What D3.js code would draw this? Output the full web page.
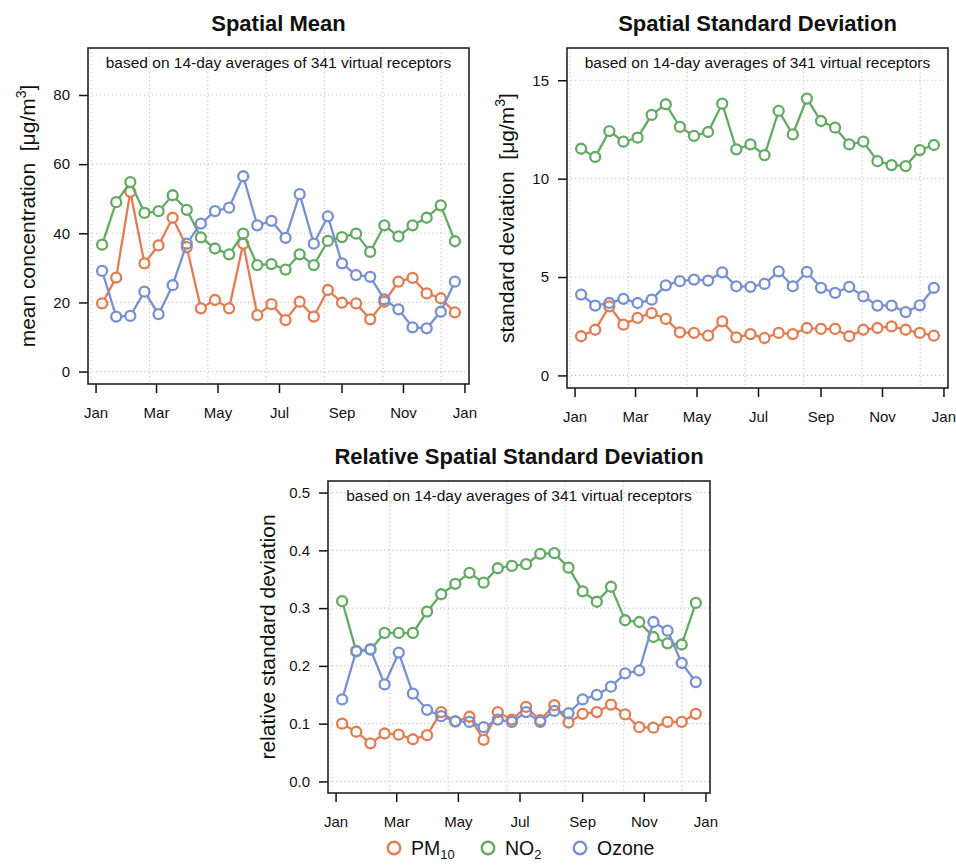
<!DOCTYPE html>
<html>
<head>
<meta charset="utf-8">
<script src="https://cdn.jsdelivr.net/npm/d3@7"></script>
<style>
  body { margin: 0; background: #fff; }
  svg { display: block; font-family: "Liberation Sans", Arial, Helvetica, sans-serif; }
</style>
</head>
<body>
<div id="chart"></div>
<script>
// 14-day periods, mid dates
const dates = ["2012-01-07", "2012-01-21", "2012-02-04", "2012-02-18", "2012-03-03", "2012-03-17",
    "2012-03-31", "2012-04-14", "2012-04-28", "2012-05-12", "2012-05-26", "2012-06-09", "2012-06-23",
    "2012-07-07", "2012-07-21", "2012-08-04", "2012-08-18", "2012-09-01", "2012-09-15", "2012-09-29",
    "2012-10-13", "2012-10-27", "2012-11-10", "2012-11-24", "2012-12-08", "2012-12-22"];

const monthTicks = ["2012-01-01", "2012-03-01", "2012-05-01", "2012-07-01", "2012-09-01", "2012-11-01", "2013-01-01"];

const meanPM10 = [19.7, 27.2, 52.0, 31.3, 36.5, 44.5, 36.0, 18.3, 20.7, 18.3, 37.0, 16.3, 19.5, 14.9, 20.2, 15.9, 23.6, 19.9, 19.7, 15.1, 20.2, 26.0, 27.1, 22.6, 21.2, 17.1];
const meanNO2 = [36.7, 49.0, 54.8, 45.9, 46.4, 51.0, 46.8, 38.8, 35.6, 33.9, 39.9, 30.8, 31.1, 29.5, 33.9, 30.8, 37.8, 38.9, 39.9, 34.6, 42.3, 39.1, 42.3, 44.5, 48.1, 37.7];
const meanOzone = [29.1, 15.9, 16.1, 23.1, 16.6, 25.0, 37.0, 42.8, 46.4, 47.4, 56.5, 42.3, 43.6, 38.7, 51.3, 37.0, 44.9, 31.3, 27.9, 27.4, 20.9, 18.0, 12.8, 12.5, 17.3, 26.0];

const sdPM10 = [1.99, 2.32, 3.51, 2.58, 2.92, 3.17, 2.87, 2.19, 2.16, 2.02, 2.75, 1.93, 2.10, 1.90, 2.16, 2.10, 2.41, 2.36, 2.36, 1.99, 2.32, 2.41, 2.49, 2.32, 2.16, 2.02];
const sdNO2 = [11.52, 11.10, 12.42, 11.88, 12.08, 13.24, 13.78, 12.63, 12.17, 12.37, 13.81, 11.49, 11.74, 11.20, 13.44, 12.25, 14.07, 12.93, 12.59, 11.74, 11.88, 10.89, 10.69, 10.64, 11.45, 11.71];
const sdOzone = [4.11, 3.55, 3.68, 3.89, 3.68, 3.85, 4.58, 4.79, 4.87, 4.82, 5.24, 4.53, 4.50, 4.65, 5.29, 4.53, 5.26, 4.45, 4.19, 4.50, 4.02, 3.55, 3.55, 3.22, 3.56, 4.45];

const relPM10 = [0.100, 0.086, 0.066, 0.083, 0.081, 0.073, 0.080, 0.120, 0.104, 0.112, 0.072, 0.120, 0.107, 0.129, 0.106, 0.132, 0.102, 0.117, 0.120, 0.133, 0.116, 0.094, 0.093, 0.103, 0.103, 0.117];
const relNO2 = [0.312, 0.225, 0.228, 0.257, 0.257, 0.257, 0.294, 0.324, 0.342, 0.361, 0.344, 0.369, 0.373, 0.376, 0.394, 0.395, 0.370, 0.329, 0.311, 0.337, 0.279, 0.276, 0.250, 0.239, 0.237, 0.309];
const relOzone = [0.142, 0.226, 0.229, 0.168, 0.223, 0.152, 0.124, 0.113, 0.104, 0.103, 0.094, 0.107, 0.103, 0.120, 0.103, 0.122, 0.118, 0.142, 0.150, 0.164, 0.187, 0.192, 0.276, 0.261, 0.205, 0.172];

const meanTicks = [0, 20, 40, 60, 80];
const sdTicks = [0, 5, 10, 15];
const relTicks = [0, 0.1, 0.2, 0.3, 0.4, 0.5];

const pollutants = ["PM10", "NO2", "Ozone"];
const colors = ["#e07d52", "#64a964", "#7890d0"];

const subtitle = "based on 14-day averages of 341 virtual receptors";
const gridStep = 5e9; // R grid() on POSIXct seconds -> 5e6 s

const parseDay = d3.utcParse("%Y-%m-%d");
const days = dates.map((d) => d3.utcHour.offset(parseDay(d), 12));
const months = monthTicks.map(parseDay);

const svg = d3.select("#chart").append("svg")
    .attr("width", 956)
    .attr("height", 865);

svg.append("rect").attr("width", 956).attr("height", 865).attr("fill", "#fff");

const panels = [
    {title: "Spatial Mean", yLabel: "mean concentration", unit: true, ylim: [0, 90], ticks: meanTicks,
        fmt: d3.format("d"), series: [meanPM10, meanNO2, meanOzone], left: 88, right: 469, top: 48, bottom: 384},
    {title: "Spatial Standard Deviation", yLabel: "standard deviation", unit: true, ylim: [0, 16], ticks: sdTicks,
        fmt: d3.format("d"), series: [sdPM10, sdNO2, sdOzone], left: 567, right: 948, top: 48, bottom: 388},
    {title: "Relative Spatial Standard Deviation", yLabel: "relative standard deviation", unit: false, ylim: [0, 0.5], ticks: relTicks,
        fmt: d3.format(".1f"), series: [relPM10, relNO2, relOzone], left: 328, right: 710, top: 481, bottom: 793}
];

const R = 5;

function drawPanel(p) {
    const g = svg.append("g");

    const [t0, t1] = d3.extent(days);
    const xPad = (t1 - t0) * 0.04;
    const x = d3.scaleUtc().domain([new Date(+t0 - xPad), new Date(+t1 + xPad)]).range([p.left, p.right]);
    const yPad = (p.ylim[1] - p.ylim[0]) * 0.04;
    const y = d3.scaleLinear().domain([p.ylim[0] - yPad, p.ylim[1] + yPad]).range([p.bottom, p.top]);

    // dotted grid
    const [d0, d1] = x.domain();
    const gridX = d3.range(Math.ceil(+d0 / gridStep), Math.floor(+d1 / gridStep) + 1).map((k) => new Date(k * gridStep));
    const grid = g.append("g")
        .attr("stroke", "#c8c8c8")
        .attr("stroke-width", 1.1)
        .attr("stroke-dasharray", "1.2,2.8");
    grid.selectAll(".gx").data(gridX).join("line")
        .attr("x1", (d) => x(d)).attr("x2", (d) => x(d))
        .attr("y1", p.top).attr("y2", p.bottom);
    grid.selectAll(".gy").data(p.ticks).join("line")
        .attr("x1", p.left).attr("x2", p.right)
        .attr("y1", (d) => y(d)).attr("y2", (d) => y(d));

    // axes
    const xAxis = d3.axisBottom(x).tickValues(months).tickFormat(d3.utcFormat("%b")).tickSize(9).tickPadding(14);
    g.append("g")
        .attr("transform", `translate(0,${p.bottom})`)
        .call(xAxis)
        .call((a) => a.select(".domain").remove())
        .call((a) => a.selectAll("line").attr("stroke", "#111").attr("stroke-width", 1.5))
        .call((a) => a.selectAll("text").attr("font-size", 15).attr("fill", "#111"))
        .attr("font-family", null);

    const yAxis = d3.axisLeft(y).tickValues(p.ticks).tickFormat(p.fmt).tickSize(9).tickPadding(9);
    g.append("g")
        .attr("transform", `translate(${p.left},0)`)
        .call(yAxis)
        .call((a) => a.select(".domain").remove())
        .call((a) => a.selectAll("line").attr("stroke", "#111").attr("stroke-width", 1.5))
        .call((a) => a.selectAll("text").attr("font-size", 15).attr("fill", "#111"))
        .attr("font-family", null);

    // box
    g.append("rect")
        .attr("x", p.left).attr("y", p.top)
        .attr("width", p.right - p.left).attr("height", p.bottom - p.top)
        .attr("fill", "none")
        .attr("stroke", "#222")
        .attr("stroke-width", 1.6);

    // titles
    const cx = (p.left + p.right) / 2;
    g.append("text")
        .attr("x", cx).attr("y", p.top - 17)
        .attr("text-anchor", "middle")
        .attr("font-size", 22)
        .attr("font-weight", "bold")
        .attr("fill", "#111")
        .text(p.title);

    g.append("text")
        .attr("x", cx).attr("y", p.top + 20)
        .attr("text-anchor", "middle")
        .attr("font-size", 15.5)
        .attr("fill", "#111")
        .text(subtitle);

    const yl = g.append("text")
        .attr("transform", `translate(${p.left - 53},${(p.top + p.bottom) / 2}) rotate(-90)`)
        .attr("text-anchor", "middle")
        .attr("font-size", 21)
        .attr("fill", "#111");
    if (p.unit) {
        yl.append("tspan").text(p.yLabel + "\u00a0\u00a0[\u03bcg/m");
        yl.append("tspan").attr("font-size", 14).attr("dy", -9).text("3");
        yl.append("tspan").attr("dy", 9).text("]");
    } else {
        yl.text(p.yLabel);
    }

    // series: lines with small gaps at the points, open circles
    p.series.forEach((vals, si) => {
        const pts = days.map((d, i) => [x(d), y(vals[i])]);
        const segs = d3.pairs(pts).map(([a, b]) => {
            const dx = b[0] - a[0], dy = b[1] - a[1], L = Math.hypot(dx, dy);
            if (L <= 2 * R) return null;
            const ux = dx / L, uy = dy / L;
            return [a[0] + ux * R, a[1] + uy * R, b[0] - ux * R, b[1] - uy * R];
        }).filter(Boolean);

        const s = g.append("g").attr("stroke", colors[si]).attr("fill", "none");
        s.selectAll("line").data(segs).join("line")
            .attr("x1", (d) => d[0]).attr("y1", (d) => d[1])
            .attr("x2", (d) => d[2]).attr("y2", (d) => d[3])
            .attr("stroke-width", 2.3);
        s.selectAll("circle").data(pts).join("circle")
            .attr("cx", (d) => d[0]).attr("cy", (d) => d[1])
            .attr("r", R)
            .attr("stroke-width", 2.3);
    });
}

panels.forEach(drawPanel);

// legend
const legendX = [394, 488, 580];
const legend = svg.append("g");
pollutants.forEach((name, i) => {
    legend.append("circle")
        .attr("cx", legendX[i]).attr("cy", 848)
        .attr("r", 6.3)
        .attr("fill", "none")
        .attr("stroke", colors[i])
        .attr("stroke-width", 2.4);
    const t = legend.append("text")
        .attr("x", legendX[i] + 17).attr("y", 855)
        .attr("font-size", 19.5)
        .attr("fill", "#111");
    const m = name.match(/^([A-Za-z]+?)(\d+)$/);
    if (m) {
        t.append("tspan").text(m[1]);
        t.append("tspan").attr("font-size", 13).attr("dy", 4).text(m[2]);
    } else {
        t.text(name);
    }
});
</script>
</body>
</html>
